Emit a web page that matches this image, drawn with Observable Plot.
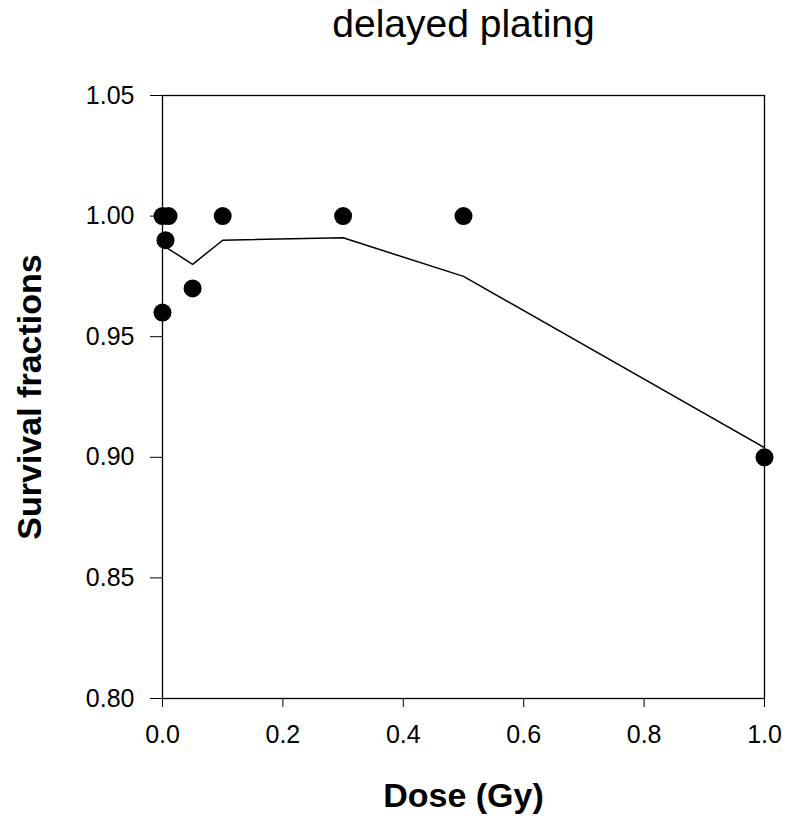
<!DOCTYPE html>
<html>
<head>
<meta charset="utf-8">
<script src="https://cdn.jsdelivr.net/npm/d3@7"></script>
<script src="https://cdn.jsdelivr.net/npm/@observablehq/plot@0.6"></script>
<style>
  html, body { margin: 0; padding: 0; background: #fff; }
</style>
</head>
<body>
<div id="chart"></div>
<script>
const titleText = "delayed plating";
const xLabel = "Dose (Gy)";
const yLabel = "Survival fractions";

// measured points
const doseDots = [0, 0.01, 0.005, 0, 0.05, 0.1, 0.3, 0.5, 1.0];
const survDots = [1.00, 1.00, 0.99, 0.96, 0.97, 1.00, 1.00, 1.00, 0.90];

// fitted line
const fitDose = [0, 0.05, 0.1, 0.3, 0.5, 1.0];
const fitSurv = [0.988, 0.980, 0.990, 0.991, 0.975, 0.904];

const xTicks = [0, 0.2, 0.4, 0.6, 0.8, 1.0];
const yTicks = [0.80, 0.85, 0.90, 0.95, 1.00, 1.05];

const dots = doseDots.map((d, i) => ({dose: d, surv: survDots[i]}));
const fit = fitDose.map((d, i) => ({dose: d, surv: fitSurv[i]}));

const chart = Plot.plot({
  width: 796,
  height: 817,
  marginTop: 95,
  marginBottom: 119,
  marginLeft: 162,
  marginRight: 32,
  style: {fontFamily: "'Liberation Sans', Arial, sans-serif", fontSize: "25px", color: "#000", background: "#fff"},
  x: {domain: [0, 1], label: null, ticks: xTicks, tickFormat: d3.format(".1f"), tickSize: 9, tickPadding: 18},
  y: {domain: [0.80, 1.05], label: null, ticks: yTicks, tickFormat: d3.format(".2f"), tickSize: 12, tickPadding: 16},
  marks: [
    Plot.frame({stroke: "#000", strokeWidth: 1.3}),
    Plot.line(fit, {x: "dose", y: "surv", stroke: "#000", strokeWidth: 1.5}),
    Plot.dot(dots, {x: "dose", y: "surv", r: 9, fill: "#000", stroke: "none"}),
    Plot.text([titleText], {frameAnchor: "top", text: d => d, dy: -59, textAnchor: "middle", lineAnchor: "bottom", fontSize: 39}),
    Plot.text([xLabel], {frameAnchor: "bottom", text: d => d, dy: 108, textAnchor: "middle", lineAnchor: "bottom", fontSize: 34, fontWeight: "bold"}),
    Plot.text([yLabel], {frameAnchor: "left", text: d => d, dx: -122, rotate: -90, textAnchor: "middle", lineAnchor: "bottom", fontSize: 34, fontWeight: "bold"})
  ]
});
document.getElementById("chart").appendChild(chart);
</script>
</body>
</html>
